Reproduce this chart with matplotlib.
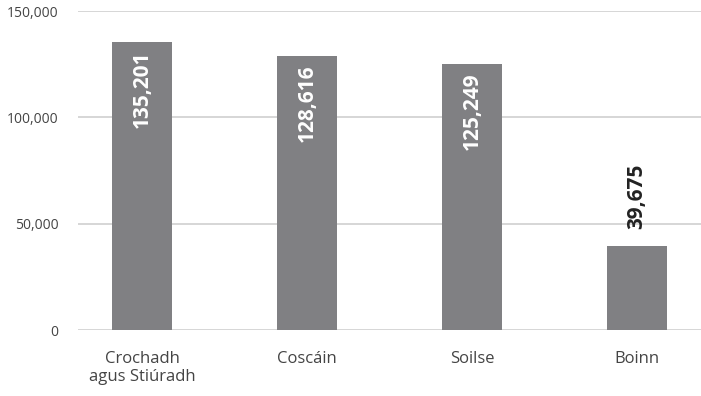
import matplotlib
matplotlib.use("Agg")
import matplotlib.pyplot as plt
import numpy as np

categories = ["Crochadh\nagus Stiúradh", "Coscáin", "Soilse", "Boinn"]
values = [135201, 128616, 125249, 39675]
yticks = [0, 50000, 100000, 150000]

plt.rcParams['font.family'] = ['Open Sans', 'DejaVu Sans']

bar_color = "#808083"
text_color = "#444444"

fig = plt.figure(figsize=(7.01, 3.96), dpi=100)
ax = fig.add_axes([78 / 701, 66 / 396, 623 / 701, 319 / 396])

x = np.arange(len(categories))
bars = ax.bar(x, values, width=0.358, color=bar_color, zorder=2)

# value labels: inside tall bars, above short ones
for xi, v in zip(x, values):
    label = f"{v:,}"
    if v > 60000:
        ax.annotate(label, (xi, v), xytext=(0, -6), textcoords="offset points",
                    rotation=90, ha="center", va="top",
                    color="white", fontsize=15, fontweight="bold", zorder=3)
    else:
        ax.annotate(label, (xi, v), xytext=(0, 12), textcoords="offset points",
                    rotation=90, ha="center", va="bottom",
                    color="#222222", fontsize=15, fontweight="bold", zorder=3)

ax.set_xlim(-0.388, 3.388)
ax.set_ylim(0, 150000)
ax.set_yticks(yticks)
ax.set_yticklabels([f"{t:,}" for t in yticks])
ax.set_xticks(x)
ax.set_xticklabels(categories, linespacing=1.15, fontsize=12)

ax.grid(axis="y", color="#d0d0d0", linewidth=1.2, zorder=0)
for side in ["top", "right", "left", "bottom"]:
    ax.spines[side].set_visible(False)
ax.tick_params(axis="both", length=0, colors=text_color)
ax.tick_params(axis="y", pad=14, labelsize=10)
ax.tick_params(axis="x", pad=15)

fig.savefig("out.png", dpi=100)
